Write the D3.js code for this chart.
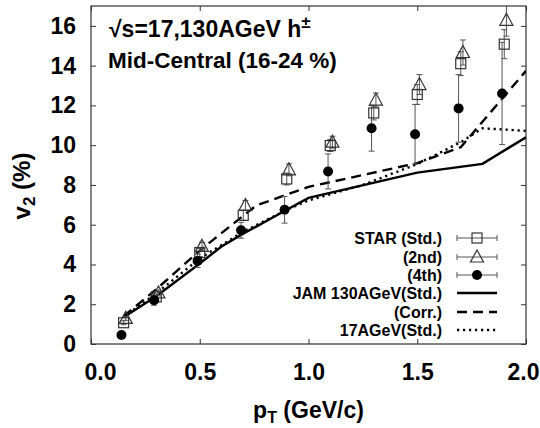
<!DOCTYPE html>
<html>
<head>
<meta charset="utf-8">
<script src="https://cdn.jsdelivr.net/npm/d3@7"></script>
<style>
    body { margin: 0; background: #fff; }
    svg { font-family: "Liberation Sans", Arial, sans-serif; font-weight: bold; }
</style>
</head>
<body>
<div id="chart"></div>
<script>
// STAR data (three methods), pT in GeV/c, v2 in %
let starX = [0.15, 0.30, 0.50, 0.70, 0.90, 1.10, 1.30, 1.50, 1.70, 1.90];
let starStd = [1.07, 2.37, 4.60, 6.47, 8.30, 9.98, 11.62, 12.55, 14.10, 15.08];
let starStdErr = [0.10, 0.15, 0.20, 0.25, 0.30, 0.30, 0.35, 0.50, 0.60, 0.73];

let star2ndX = [0.16, 0.31, 0.51, 0.71, 0.91, 1.11, 1.31, 1.51, 1.71, 1.91];
let star2nd = [1.29, 2.57, 4.91, 6.97, 8.76, 10.15, 12.27, 13.05, 14.66, 16.28];
let star2ndErr = [0.10, 0.15, 0.20, 0.25, 0.30, 0.30, 0.35, 0.50, 0.63, 0.80];

let star4thX = [0.14, 0.29, 0.49, 0.69, 0.89, 1.09, 1.29, 1.49, 1.69, 1.89];
let star4th = [0.45, 2.20, 4.18, 5.72, 6.75, 8.68, 10.85, 10.55, 11.85, 12.60];
let star4thErr = [0.10, 0.25, 0.33, 0.40, 0.67, 0.88, 1.15, 1.50, 1.70, 2.57];

// JAM model curves
let jamStdX = [0.15, 0.30, 0.50, 0.60, 0.70, 0.90, 1.00, 1.50, 1.80, 2.00];
let jamStd = [1.35, 2.40, 4.05, 4.90, 5.55, 6.75, 7.35, 8.62, 9.06, 10.40];

let jamCorrX = [0.15, 0.30, 0.50, 0.70, 0.76, 1.00, 1.50, 1.70, 2.00];
let jamCorr = [1.40, 2.75, 4.70, 6.45, 6.97, 7.90, 9.10, 9.90, 13.74];

let jam17X = [0.15, 0.30, 0.50, 0.70, 0.90, 1.00, 1.25, 1.50, 1.70, 1.80, 2.00];
let jam17 = [1.35, 2.55, 4.30, 5.65, 6.75, 7.22, 8.00, 9.05, 10.15, 10.85, 10.72];

let xTicks = [0, 0.5, 1.0, 1.5, 2.0];
let yTicks = [0, 2, 4, 6, 8, 10, 12, 14, 16];

let legendNames = ["STAR (Std.)", "(2nd)", "(4th)", "JAM 130AGeV(Std.)", "(Corr.)", "17AGeV(Std.)"];

let margin = { top: 6, right: 14, bottom: 84, left: 91 };
let width = 540 - margin.left - margin.right;
let height = 428 - margin.top - margin.bottom;

let svg = d3.select("#chart")
    .append("svg")
    .attr("width", 540)
    .attr("height", 428)
    .append("g")
    .attr("transform", "translate(" + margin.left + "," + margin.top + ")");

let x = d3.scaleLinear().domain([0, 2]).range([0, width]);
let y = d3.scaleLinear().domain([0, 17]).range([height, 0]);

svg.append("clipPath").attr("id", "clip")
    .append("rect").attr("width", width).attr("height", height);

// axes with inward ticks on all four sides
let xAxis = svg.append("g")
    .attr("transform", "translate(0," + height + ")")
    .call(d3.axisBottom(x).tickValues(xTicks).tickFormat(d3.format(".1f")).tickSize(-5).tickPadding(20));
xAxis.selectAll("text").attr("dx", function(d, i) { return i === 0 ? 9 : (i === 4 ? -3 : 0); });

svg.append("g")
    .call(d3.axisTop(x).tickValues(xTicks).tickSize(-5).tickFormat(""));

svg.append("g")
    .call(d3.axisLeft(y).tickValues(yTicks).tickSize(-5).tickPadding(15));

svg.append("g")
    .attr("transform", "translate(" + width + ",0)")
    .call(d3.axisRight(y).tickValues(yTicks).tickSize(-5).tickFormat(""));

svg.selectAll(".domain").remove();
svg.selectAll(".tick line").attr("stroke", "#333");
svg.selectAll(".tick text").attr("font-size", 23).attr("font-family", null).attr("fill", "#000");

svg.append("rect")
    .attr("width", width)
    .attr("height", height)
    .attr("fill", "none")
    .attr("stroke", "#333")
    .attr("stroke-width", 1.2);

// axis titles
let xt = svg.append("text")
    .attr("x", width / 2)
    .attr("y", 412)
    .attr("text-anchor", "middle")
    .attr("font-size", 23);
xt.append("tspan").text("p");
xt.append("tspan").attr("font-size", 16).attr("dy", 5).text("T");
xt.append("tspan").attr("dy", -5).text(" (GeV/c)");

let yt = svg.append("text")
    .attr("transform", "translate(" + (30 - margin.left) + "," + (186 - margin.top) + ") rotate(-90)")
    .attr("text-anchor", "middle")
    .attr("font-size", 24);
yt.append("tspan").text("v");
yt.append("tspan").attr("font-size", 17).attr("dy", 5).text("2");
yt.append("tspan").attr("dy", -5).text(" (%)");

// header text
let t1 = svg.append("text")
    .attr("x", 109 - margin.left)
    .attr("y", 37 - margin.top)
    .attr("font-size", 23);
t1.append("tspan").text("\u221As=17,130AGeV h");
t1.append("tspan").attr("font-size", 17).attr("dy", -9).text("\u00B1");

svg.append("text")
    .attr("x", 108 - margin.left)
    .attr("y", 68 - margin.top)
    .attr("font-size", 22.5)
    .text("Mid-Central (16-24 %)");

let plot = svg.append("g").attr("clip-path", "url(#clip)");

// model curves
function drawCurve(xs, ys, dash) {
    let pts = xs.map(function(d, i) { return [d, ys[i]]; });
    let line = d3.line()
        .x(function(d) { return x(d[0]); })
        .y(function(d) { return y(d[1]); });
    plot.append("path")
        .datum(pts)
        .attr("d", line)
        .attr("fill", "none")
        .attr("stroke", "#000")
        .attr("stroke-width", 2.4)
        .attr("stroke-dasharray", dash);
}

drawCurve(jamStdX, jamStd, null);
drawCurve(jamCorrX, jamCorr, "10,6");
drawCurve(jam17X, jam17, "2.2,3.8");

// error bars
function drawErrors(xs, ys, errs) {
    let g = plot.append("g").attr("stroke", "#555").attr("stroke-width", 1);
    xs.forEach(function(d, i) {
        let px = x(d), lo = y(ys[i] - errs[i]), hi = y(ys[i] + errs[i]);
        g.append("line").attr("x1", px).attr("x2", px).attr("y1", lo).attr("y2", hi);
        g.append("line").attr("x1", px - 3).attr("x2", px + 3).attr("y1", lo).attr("y2", lo);
        g.append("line").attr("x1", px - 3).attr("x2", px + 3).attr("y1", hi).attr("y2", hi);
    });
}

drawErrors(starX, starStd, starStdErr);
drawErrors(star2ndX, star2nd, star2ndErr);
drawErrors(star4thX, star4th, star4thErr);

// marker shapes
function square(g) {
    g.append("rect").attr("x", -5).attr("y", -5).attr("width", 10).attr("height", 10)
        .attr("fill", "none").attr("stroke", "#333").attr("stroke-width", 1.2);
}
function triangle(g) {
    g.append("path").attr("d", "M0,-7L6.5,5L-6.5,5Z")
        .attr("fill", "none").attr("stroke", "#333").attr("stroke-width", 1.2);
}
function circle(g) {
    g.append("circle").attr("r", 5).attr("fill", "#000");
}

function drawMarkers(xs, ys, shape) {
    xs.forEach(function(d, i) {
        let g = plot.append("g").attr("transform", "translate(" + x(d) + "," + y(ys[i]) + ")");
        shape(g);
    });
}

drawMarkers(starX, starStd, square);
drawMarkers(star2ndX, star2nd, triangle);
drawMarkers(star4thX, star4th, circle);

// legend
let legendRows = [238, 257, 275, 293, 312, 330];
let shapes = [square, triangle, circle];
let dashes = [null, "10,6", "2.2,3.8"];
let legend = svg.append("g").attr("transform", "translate(" + (-margin.left) + "," + (-margin.top) + ")");

legendNames.forEach(function(name, i) {
    let ry = legendRows[i];
    legend.append("text")
        .attr("x", 442)
        .attr("y", ry)
        .attr("dy", "0.36em")
        .attr("text-anchor", "end")
        .attr("font-size", 16)
        .text(name);
    if (i < 3) {
        let eg = legend.append("g").attr("stroke", "#555").attr("stroke-width", 1);
        eg.append("line").attr("x1", 457).attr("x2", 497).attr("y1", ry).attr("y2", ry);
        eg.append("line").attr("x1", 457).attr("x2", 457).attr("y1", ry - 3).attr("y2", ry + 3);
        eg.append("line").attr("x1", 497).attr("x2", 497).attr("y1", ry - 3).attr("y2", ry + 3);
        let mg = legend.append("g").attr("transform", "translate(477," + ry + ")");
        shapes[i](mg);
    } else {
        legend.append("line")
            .attr("x1", 457).attr("x2", 497)
            .attr("y1", ry).attr("y2", ry)
            .attr("stroke", "#000")
            .attr("stroke-width", 2.4)
            .attr("stroke-dasharray", dashes[i - 3]);
    }
});
</script>
</body>
</html>
